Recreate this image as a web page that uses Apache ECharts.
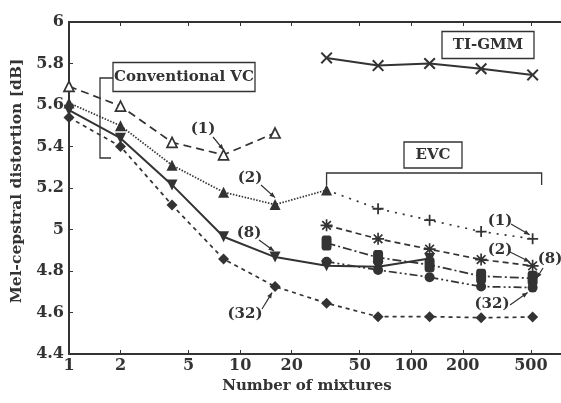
<!DOCTYPE html>
<html>
<head>
<meta charset="utf-8">
<script src="https://cdn.jsdelivr.net/npm/echarts@6/dist/echarts.min.js"></script>
<style>
html,body{margin:0;padding:0;background:#fff;}
#c{width:561px;height:403px;}
</style>
</head>
<body>
<div id="c"></div>
<script>
// ---- data ----
const xTickLabels = [1, 2, 5, 10, 20, 50, 100, 200, 500];
const yTicks = [4.4, 4.6, 4.8, 5, 5.2, 5.4, 5.6, 5.8, 6];

const conv1Mix = [1, 2, 4, 8, 16];
const conv1 = [5.69, 5.595, 5.42, 5.36, 5.465];
const conv2Mix = [1, 2, 4, 8, 16, 32];
const conv2 = [5.61, 5.50, 5.31, 5.18, 5.12, 5.19];
const conv8Mix = [1, 2, 4, 8, 16, 32, 64, 128];
const conv8 = [5.575, 5.44, 5.215, 4.965, 4.867, 4.825, 4.82, 4.86];
const conv32Mix = [1, 2, 4, 8, 16, 32, 64, 128, 256, 512];
const conv32 = [5.54, 5.40, 5.118, 4.858, 4.725, 4.645, 4.58, 4.58, 4.575, 4.578];
const evcMix = [32, 64, 128, 256, 512];
const evc1 = [5.19, 5.10, 5.045, 4.99, 4.955];
const evc2 = [5.02, 4.955, 4.905, 4.855, 4.825];
const evc8 = [4.935, 4.865, 4.83, 4.775, 4.765];
const evc32 = [4.845, 4.805, 4.77, 4.725, 4.72];
const tiMix = [32, 64, 128, 256, 512];
const tigmm = [5.827, 5.79, 5.80, 5.775, 5.745];

// ---- helpers ----
const INK = '#333';
const FONT = 'DejaVu Serif';
function pairs(xs, ys) { return xs.map((x, i) => [x, ys[i]]); }
const SYM_X = 'path://M0,1.2L1.2,0L5,3.8L8.8,0L10,1.2L6.2,5L10,8.8L8.8,10L5,6.2L1.2,10L0,8.8L3.8,5Z';
const SYM_PLUS = 'path://M4.2,0H5.8V4.2H10V5.8H5.8V10H4.2V5.8H0V4.2H4.2Z';
const SYM_STAR = 'path://M4.3,0H5.7V3.3L8.1,0.9L9.1,1.9L6.7,4.3H10V5.7H6.7L9.1,8.1L8.1,9.1L5.7,6.7V10H4.3V6.7L1.9,9.1L0.9,8.1L3.3,5.7H0V4.3H3.3L0.9,1.9L1.9,0.9L4.3,3.3Z';
const SYM_INV = 'path://M0,0L10,0L5,9Z';

function line(name, data, dash, symbol, size, hollow, width) {
  return {
    name: name, type: 'line', data: data, xAxisIndex: 0, yAxisIndex: 0,
    symbol: symbol, symbolSize: size, showSymbol: true,
    lineStyle: { color: INK, width: width || 1.7, type: dash },
    itemStyle: hollow ? { color: '#fff', borderColor: INK, borderWidth: 1.7 } : { color: INK, borderWidth: 0 },
    z: 3, animation: false, silent: true
  };
}

const evc1Data = pairs(evcMix, evc1).map((p, i) => i === 0 ? { value: p, symbol: 'none' } : p);

const chart = echarts.init(document.getElementById('c'), null, { renderer: 'canvas' });

const axisCommon = {
  type: 'log', logBase: 10, min: 1, max: 750,
  axisLine: { show: true, lineStyle: { color: INK, width: 2 } },
  splitLine: { show: false },
  minorTick: { show: false }
};

chart.setOption({
  animation: false,
  backgroundColor: '#fff',
  grid: { left: 69, right: 0, top: 22, bottom: 49 },
  xAxis: [
    Object.assign({}, axisCommon, {
      position: 'bottom',
      name: 'Number of mixtures', nameLocation: 'middle', nameGap: 25,
      nameTextStyle: { fontFamily: FONT, fontWeight: 'bold', fontSize: 15, color: INK, padding: [0, 16, 0, 0] },
      axisTick: { show: true, inside: true, length: 4, customValues: xTickLabels, lineStyle: { color: INK } },
      axisLabel: { show: true, customValues: xTickLabels, margin: 4, fontFamily: FONT, fontWeight: 'bold', fontSize: 16, color: INK }
    }),
    Object.assign({}, axisCommon, {
      position: 'top',
      axisTick: { show: true, inside: true, length: 4, customValues: xTickLabels, lineStyle: { color: INK } },
      axisLabel: { show: false }
    })
  ],
  yAxis: {
    type: 'value', min: 4.4, max: 6, interval: 0.2,
    name: 'Mel-cepstral distortion [dB]', nameLocation: 'middle', nameGap: 42,
    nameTextStyle: { fontFamily: FONT, fontWeight: 'bold', fontSize: 15.5, color: INK, padding: [0, 0, 0, 14] },
    axisLine: { show: true, lineStyle: { color: INK, width: 2 } },
    axisTick: { show: true, inside: true, length: 4, lineStyle: { color: INK } },
    splitLine: { show: false },
    axisLabel: { margin: 5, fontFamily: FONT, fontWeight: 'bold', fontSize: 16, color: INK }
  },
  series: [
    line('TI-GMM', pairs(tiMix, tigmm), 'solid', SYM_X, 12, false, 2),
    line('Conv (1)', pairs(conv1Mix, conv1), [8, 5], 'triangle', 10, true),
    line('Conv (2)', pairs(conv2Mix, conv2), [1.5, 1.5], 'triangle', 11, false),
    line('Conv (8)', pairs(conv8Mix, conv8), 'solid', SYM_INV, 11, false, 2),
    line('Conv (32)', pairs(conv32Mix, conv32), [4, 4], 'diamond', 11, false),
    line('EVC (1)', evc1Data, [2, 6], SYM_PLUS, 11, false),
    line('EVC (2)', pairs(evcMix, evc2), [6, 4], SYM_STAR, 12, false),
    line('EVC (8)', pairs(evcMix, evc8), [9, 3, 2, 3], 'roundRect', [10, 15], false),
    line('EVC (32)', pairs(evcMix, evc32), [8, 3, 2, 3, 2, 3], 'circle', 10, false)
  ]
});

// ---- annotations (boxes, brackets, labels with arrows) ----
function px(x, y) { return chart.convertToPixel({ gridIndex: 0 }, [x, y]); }
const g = [];
const tStyle = { fontFamily: FONT, fontWeight: 'bold', fontSize: 15, fill: INK };
function box(text, cx, cy, w, h) {
  g.push({ type: 'rect', shape: { x: cx - w / 2, y: cy - h / 2, width: w, height: h }, style: { fill: '#fff', stroke: INK, lineWidth: 1.3 }, z: 10 });
  g.push({ type: 'text', x: cx, y: cy, style: Object.assign({ text: text, align: 'center', verticalAlign: 'middle' }, tStyle), z: 11 });
}
function poly(points, w) {
  g.push({ type: 'polyline', shape: { points: points }, style: { stroke: INK, lineWidth: w || 1.3, fill: null }, z: 10 });
}
function label(text, tx, ty, fromX, fromY, toPt) {
  g.push({ type: 'text', x: tx, y: ty, style: Object.assign({ text: text, align: 'center', verticalAlign: 'middle' }, tStyle), z: 11 });
  const ex = toPt[0], ey = toPt[1];
  poly([[fromX, fromY], [ex, ey]], 1.2);
  const ang = Math.atan2(ey - fromY, ex - fromX);
  const L = 6, A = 0.4;
  g.push({ type: 'polygon', shape: { points: [[ex, ey], [ex - L * Math.cos(ang - A), ey - L * Math.sin(ang - A)], [ex - L * Math.cos(ang + A), ey - L * Math.sin(ang + A)]] }, style: { fill: INK }, z: 11 });
}

// Conventional VC box + bracket
box('Conventional VC', 184, 77, 142, 29);
poly([[113, 78], [100, 78], [100, 158], [111, 158]]);
// TI-GMM box
box('TI-GMM', 488, 45, 92, 27);
// EVC box + bracket
box('EVC', 433, 155, 58, 26);
const b0 = px(32, 5.19), b1 = px(512, 5.19);
poly([[b0[0], 185], [b0[0], 173], [b1[0] + 9, 173], [b1[0] + 9, 185]]);

// conventional labels
let p;
p = px(conv1Mix[3], conv1[3]); label('(1)', 203, 129, 213, 137, [p[0], p[1] - 5]);
p = px(conv2Mix[4], conv2[4]); label('(2)', 250, 178, 261, 185, [p[0], p[1] - 7]);
p = px(conv8Mix[4], conv8[4]); label('(8)', 249, 233, 259, 240, [p[0] - 1, p[1] - 6]);
p = px(conv32Mix[4], conv32[4]); label('(32)', 245, 314, 262, 309, [p[0] - 3, p[1] + 6]);
// EVC labels
p = px(evcMix[4], evc1[4]); label('(1)', 500, 221, 511, 224, [p[0] - 3, p[1] - 4]);
p = px(evcMix[4], evc2[4]); label('(2)', 500, 250, 510, 252, [p[0] - 3, p[1] - 4]);
p = px(evcMix[4], evc8[4]); label('(8)', 550, 259, 543, 268, [p[0] + 4, p[1]]);
p = px(evcMix[4], evc32[4]); label('(32)', 492, 304, 510, 305, [p[0] - 5, p[1] + 5]);

chart.setOption({ graphic: g });
</script>
</body>
</html>
